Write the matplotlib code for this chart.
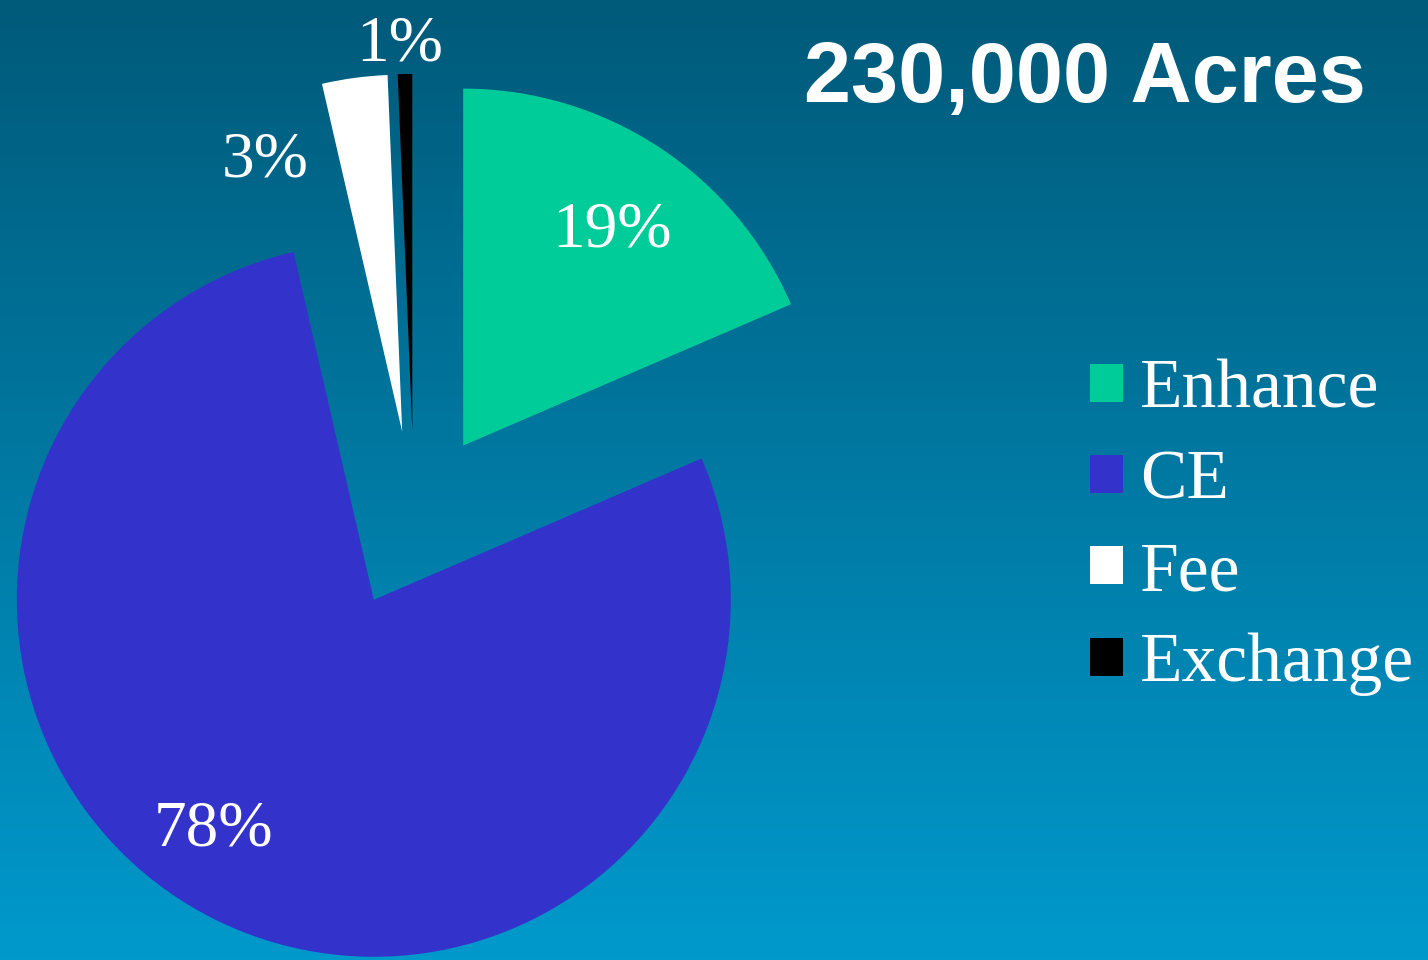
import numpy as np
import matplotlib
matplotlib.use('Agg')
import matplotlib.pyplot as plt
from matplotlib.colors import LinearSegmentedColormap

# Données (acres)
categories = ['Enhance', 'CE', 'Fee', 'Exchange']
acres = [42600, 179100, 6800, 1500]
colors = ['#00CC99', '#3333CC', '#FFFFFF', '#000000']
title = '230,000 Acres'

# Position des étiquettes (% ) par rapport au centre du camembert
pct_pos = [(0.555, 0.812), (-0.563, -0.868), (-0.417, 1.007), (-0.039, 1.332)]

fig = plt.figure(figsize=(14.28, 9.6), dpi=100)

# Fond dégradé
bg = fig.add_axes([0, 0, 1, 1])
grad = np.linspace(0, 1, 256).reshape(-1, 1)
cmap = LinearSegmentedColormap.from_list('bg', ['#005A7A', '#0099CC'])
bg.imshow(grad, aspect='auto', cmap=cmap, extent=[0, 1, 0, 1], origin='upper')
bg.axis('off')

ax = fig.add_axes([0, 0, 1, 1])
ax.patch.set_visible(False)
wedges, texts, autotexts = ax.pie(
    acres, colors=colors, startangle=90, counterclock=False,
    explode=[0.25] * 4, autopct='%1.0f%%', pctdistance=0.75,
    wedgeprops=dict(linewidth=0),
    textprops=dict(color='white', fontsize=47, family='Liberation Serif'))
for t, (x, y) in zip(autotexts, pct_pos):
    t.set_position((x, y))

ax.set_aspect('equal')
ax.set_xlim(-1.160, 2.840)
ax.set_ylim(-1.232, 1.457)
ax.axis('off')

fig.text(0.76, 0.917, title, ha='center', va='center', color='white',
         fontsize=61, fontweight='bold', family='Liberation Sans')

leg = ax.legend(wedges, categories, loc='upper left',
                bbox_to_anchor=(1090 / 1428, 1 - 359 / 960),
                bbox_transform=fig.transFigure, frameon=False,
                prop=dict(family='Liberation Serif', size=50),
                handlelength=0.47, handleheight=0.47, handletextpad=0.25,
                labelspacing=0.4, borderpad=0, borderaxespad=0)
for t in leg.get_texts():
    t.set_color('white')

plt.savefig('out.png', dpi=100)
